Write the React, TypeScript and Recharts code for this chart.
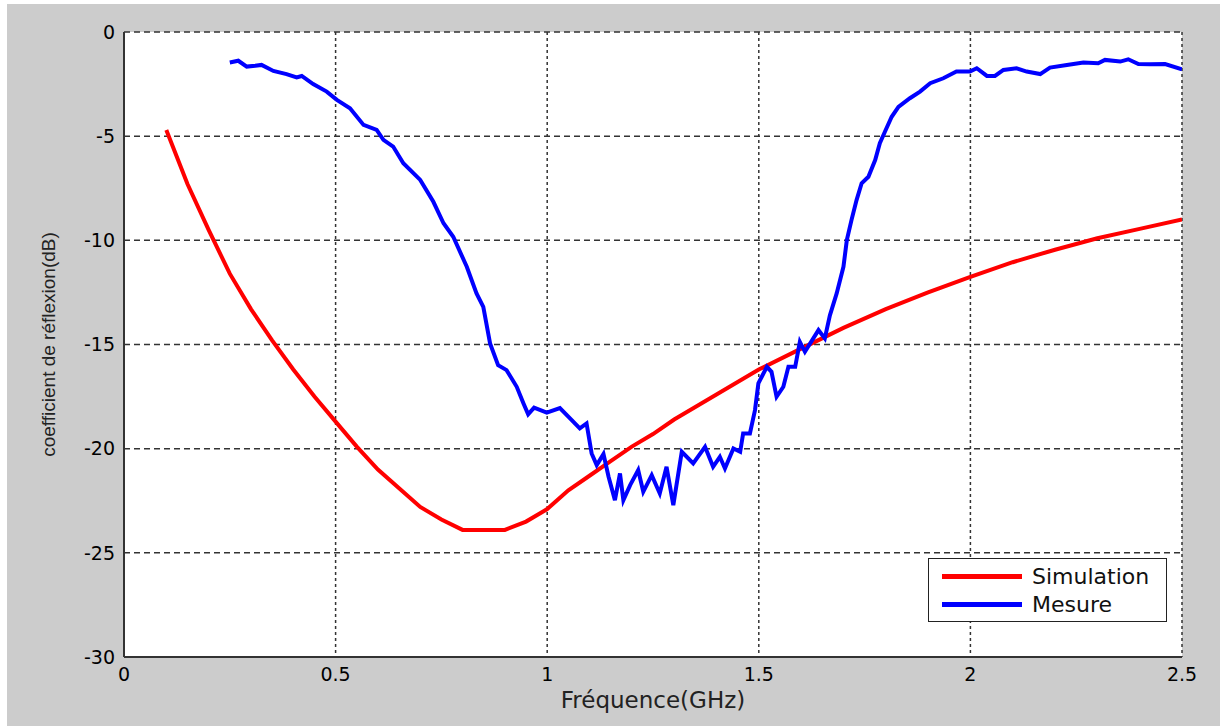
import React from 'react';
import { LineChart, Line, XAxis, YAxis, CartesianGrid, Legend, Label } from 'recharts';

// Simulation (red) curve
const simFreq = [0.1, 0.15, 0.2, 0.25, 0.3, 0.35, 0.4, 0.45, 0.5, 0.55, 0.6, 0.65, 0.7, 0.75, 0.8, 0.9, 0.95, 1.0, 1.05, 1.1, 1.15, 1.2, 1.25, 1.3, 1.35, 1.4, 1.45, 1.5, 1.6, 1.7, 1.8, 1.9, 2.0, 2.1, 2.2, 2.3, 2.4, 2.5];
const simDb = [-4.7, -7.3, -9.5, -11.6, -13.3, -14.8, -16.2, -17.5, -18.7, -19.9, -21.0, -21.9, -22.8, -23.4, -23.9, -23.9, -23.5, -22.9, -22.0, -21.3, -20.6, -19.9, -19.3, -18.6, -18.0, -17.4, -16.8, -16.2, -15.2, -14.2, -13.3, -12.5, -11.75, -11.05, -10.45, -9.9, -9.45, -9.0];

// Mesure (blue) curve
const mesFreq = [0.25, 0.27, 0.29, 0.31, 0.325, 0.353, 0.384, 0.408, 0.42, 0.447, 0.479, 0.503, 0.534, 0.566, 0.597, 0.613, 0.636, 0.66, 0.7, 0.731, 0.755, 0.778, 0.81, 0.833, 0.849, 0.865, 0.884, 0.904, 0.928, 0.944, 0.955, 0.969, 0.999, 1.03, 1.058, 1.077, 1.093, 1.105, 1.117, 1.133, 1.145, 1.16, 1.172, 1.18, 1.196, 1.215, 1.227, 1.247, 1.266, 1.282, 1.298, 1.318, 1.345, 1.373, 1.392, 1.408, 1.42, 1.44, 1.456, 1.463, 1.479, 1.491, 1.499, 1.519, 1.53, 1.542, 1.558, 1.57, 1.586, 1.597, 1.609, 1.641, 1.656, 1.668, 1.684, 1.7, 1.708, 1.719, 1.731, 1.743, 1.759, 1.775, 1.786, 1.798, 1.814, 1.83, 1.857, 1.881, 1.905, 1.936, 1.967, 1.999, 2.015, 2.039, 2.058, 2.078, 2.109, 2.133, 2.165, 2.188, 2.228, 2.267, 2.302, 2.318, 2.354, 2.373, 2.397, 2.424, 2.46, 2.5];
const mesDb = [-1.46, -1.38, -1.66, -1.62, -1.58, -1.87, -2.02, -2.18, -2.11, -2.5, -2.86, -3.26, -3.66, -4.46, -4.7, -5.18, -5.5, -6.3, -7.1, -8.15, -9.18, -9.83, -11.27, -12.55, -13.19, -14.95, -15.99, -16.23, -17.03, -17.83, -18.35, -18.03, -18.27, -18.05, -18.63, -19.03, -18.79, -20.23, -20.79, -20.26, -21.35, -22.47, -21.19, -22.47, -21.75, -21.03, -22.07, -21.27, -22.15, -20.87, -22.71, -20.15, -20.71, -19.91, -20.87, -20.39, -20.95, -19.99, -20.15, -19.27, -19.27, -18.15, -16.87, -16.07, -16.31, -17.51, -17.03, -16.07, -16.07, -14.87, -15.35, -14.31, -14.71, -13.6, -12.55, -11.27, -9.99, -9.03, -8.07, -7.26, -6.95, -6.15, -5.34, -4.79, -4.07, -3.59, -3.18, -2.86, -2.46, -2.22, -1.9, -1.9, -1.74, -2.11, -2.11, -1.82, -1.74, -1.9, -2.02, -1.71, -1.58, -1.46, -1.5, -1.34, -1.42, -1.31, -1.54, -1.55, -1.54, -1.79];

const seriesNames = ['Simulation', 'Mesure'];
const xTicks = [0, 0.5, 1, 1.5, 2, 2.5];
const yTicks = [-30, -25, -20, -15, -10, -5, 0];

const simData = simFreq.map((f, i) => ({ f, db: simDb[i] }));
const mesData = mesFreq.map((f, i) => ({ f, db: mesDb[i] }));

const tickStyle = { fill: '#000', fontSize: 19, fontFamily: 'DejaVu Sans' };

const hLine = (p: any) => (
  <line key={p.key ?? p.index} x1={p.x1} y1={p.y1} x2={p.x2} y2={p.y2} stroke="#333" strokeWidth={1.5} strokeDasharray="6 4" />
);
const vLine = (p: any) => (
  <line key={p.key ?? p.index} x1={p.x1} y1={p.y1} x2={p.x2} y2={p.y2} stroke="#333" strokeWidth={1.5} strokeDasharray="3 3" />
);

const LegendBox = ({ payload }: any) => {
  const items = [...(payload || [])].sort(
    (a: any, b: any) => seriesNames.indexOf(a.value) - seriesNames.indexOf(b.value)
  );
  return (
    <div style={{ background: '#fff', border: '1.5px solid #222', width: 239, height: 64, boxSizing: 'border-box', paddingTop: 3 }}>
      {items.map((entry: any) => (
        <div key={entry.value} style={{ display: 'flex', alignItems: 'center', height: 28 }}>
          <span style={{ display: 'inline-block', width: 80, height: 5, background: entry.color, marginLeft: 13, marginRight: 10 }} />
          <span style={{ fontFamily: 'DejaVu Sans', fontSize: 22, color: '#111' }}>{entry.value}</span>
        </div>
      ))}
    </div>
  );
};

const YLabel = ({ viewBox }: any) => {
  const cy = viewBox.y + viewBox.height / 2;
  return (
    <text x={41} y={cy} transform={`rotate(-90 41 ${cy})`} textAnchor="middle" dominantBaseline="central"
      fontFamily="Liberation Sans" fontSize={19} fill="#222">
      coefficient de réflexion(dB)
    </text>
  );
};

export default function App() {
  return (
    <div style={{ position: 'absolute', left: 7, top: 4, width: 1213, height: 722, background: '#cccccc' }}>
      <LineChart width={1213} height={722} margin={{ top: 28, right: 38, bottom: 10, left: 0 }}>
        <CartesianGrid fill="#fff" horizontal={hLine} vertical={vLine} />
        <XAxis
          type="number"
          dataKey="f"
          domain={[0, 2.5]}
          ticks={xTicks}
          allowDataOverflow
          height={59}
          axisLine={{ stroke: '#333', strokeWidth: 2 }}
          tickLine={false}
          tickMargin={5}
          tick={tickStyle}
        >
          <Label value="Fréquence(GHz)" position="insideBottom" offset={8} fontFamily="DejaVu Sans" fontSize={23} fill="#222" />
        </XAxis>
        <YAxis
          type="number"
          dataKey="db"
          domain={[-30, 0]}
          ticks={yTicks}
          allowDataOverflow
          width={117}
          axisLine={{ stroke: '#333', strokeWidth: 2 }}
          tickLine={false}
          tickMargin={3}
          tick={tickStyle}
        >
          <Label content={YLabel} />
        </YAxis>
        <Legend
          layout="vertical"
          align="center"
          verticalAlign="middle"
          content={LegendBox}
          wrapperStyle={{ position: 'absolute', left: 921, top: 554, width: 239, height: 64 }}
        />
        <Line data={simData} dataKey="db" name="Simulation" stroke="#ff0000" strokeWidth={4} dot={false} type="linear" isAnimationActive={false} />
        <Line data={mesData} dataKey="db" name="Mesure" stroke="#0000ff" strokeWidth={4} dot={false} type="linear" isAnimationActive={false} />
      </LineChart>
    </div>
  );
}
